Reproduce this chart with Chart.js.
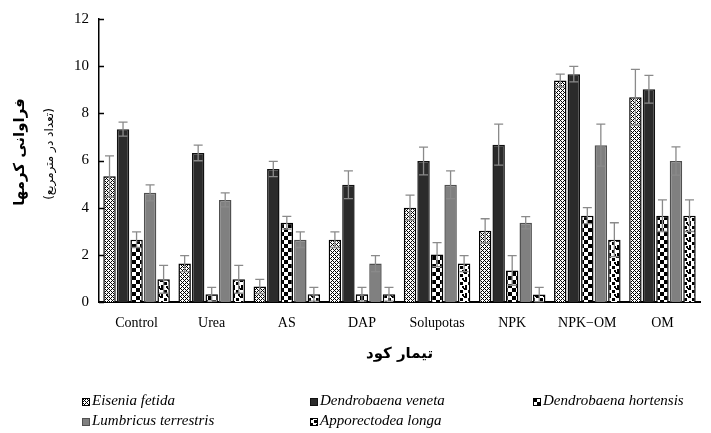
<!DOCTYPE html>
<html>
<head>
<meta charset="utf-8">
<script src="https://cdn.jsdelivr.net/npm/chart.js@4.4.0/dist/chart.umd.min.js"></script>
<style>
  body { margin: 0; background: #fff; }
  #wrap { position: relative; width: 711px; height: 433px; }
  .lg { position: absolute; font: italic 15px "Liberation Serif", serif; color: #000; white-space: nowrap; line-height: 16px; }
  .lg canvas { vertical-align: -1px; margin-right: 2px; }
</style>
</head>
<body>
<div id="wrap">
  <canvas id="chart" width="711" height="433"></canvas>
</div>
<script>
// DATA
var categories = ['Control', 'Urea', 'AS', 'DAP', 'Solupotas', 'NPK', 'NPK−OM', 'OM'];
var seriesNames = ['Eisenia fetida', 'Dendrobaena veneta', 'Dendrobaena hortensis', 'Lumbricus terrestris', 'Apporectodea longa'];

var eiseniaValues    = [5.33, 1.63, 0.66, 2.64, 4.00, 3.02, 9.39, 8.68];
var eiseniaErrors    = [0.87, 0.34, 0.30, 0.33, 0.53, 0.51, 0.27, 1.18];
var venetaValues     = [7.33, 6.32, 5.64, 4.97, 5.98, 6.67, 9.66, 9.02];
var venetaErrors     = [0.30, 0.33, 0.32, 0.59, 0.59, 0.87, 0.33, 0.59];
var hortensisValues  = [2.64, 0.33, 3.36, 0.33, 2.01, 1.34, 3.66, 3.66];
var hortensisErrors  = [0.33, 0.29, 0.27, 0.29, 0.51, 0.63, 0.34, 0.67];
var lumbricusValues  = [4.63, 4.33, 2.64, 1.63, 4.97, 3.36, 6.65, 5.98];
var lumbricusErrors  = [0.34, 0.30, 0.33, 0.34, 0.59, 0.26, 0.89, 0.60];
var longaValues      = [0.96, 0.96, 0.33, 0.33, 1.63, 0.32, 2.64, 3.66];
var longaErrors      = [0.59, 0.59, 0.29, 0.29, 0.34, 0.30, 0.72, 0.67];

var yTicks = [0, 2, 4, 6, 8, 10, 12];
var xTitle = 'تیمار کود';
var yTitle = 'فراوانی کرمها';
var ySubTitle = '(تعداد در مترمربع)';

// PATTERNS
function makePattern(w, h, draw) {
  var c = document.createElement('canvas');
  c.width = w; c.height = h;
  var g = c.getContext('2d');
  g.fillStyle = '#fff';
  g.fillRect(0, 0, w, h);
  g.fillStyle = '#000';
  draw(g);
  return g.createPattern(c, 'repeat');
}

var crossPattern = makePattern(4, 4, function(g) {
  [[0,0],[1,1],[2,2],[3,3],[1,3],[3,1]].forEach(function(p) { g.fillRect(p[0], p[1], 1, 1); });
});
var checkPattern = makePattern(8, 8, function(g) {
  g.fillRect(0, 0, 4, 4);
  g.fillRect(4, 4, 4, 4);
});
var spotPattern = makePattern(8, 8, function(g) {
  g.fillRect(0, 0, 3, 2);
  g.fillRect(4, 2, 3, 3);
  g.fillRect(1, 5, 2, 3);
  g.fillRect(6, 6, 2, 2);
  g.fillRect(7, 0, 1, 1);
});

var fills   = [crossPattern, '#2b2b2b', checkPattern, '#808080', spotPattern];
var borders = ['#000', '#111', '#000', '#505050', '#000'];
var valueSets = [eiseniaValues, venetaValues, hortensisValues, lumbricusValues, longaValues];
var errorSets = [eiseniaErrors, venetaErrors, hortensisErrors, lumbricusErrors, longaErrors];

// PLUGINS
var errorBars = {
  id: 'errorBars',
  afterDatasetsDraw: function(chart) {
    var ctx = chart.ctx, y = chart.scales.y;
    ctx.save();
    ctx.strokeStyle = '#8a8a8a';
    ctx.lineWidth = 1.3;
    chart.data.datasets.forEach(function(ds, i) {
      var meta = chart.getDatasetMeta(i);
      meta.data.forEach(function(bar, j) {
        var v = ds.data[j], e = ds.errors[j];
        var top = y.getPixelForValue(v + e), bot = y.getPixelForValue(v - e);
        ctx.beginPath();
        ctx.moveTo(bar.x, top); ctx.lineTo(bar.x, bot);
        ctx.moveTo(bar.x - 4.5, top); ctx.lineTo(bar.x + 4.5, top);
        ctx.moveTo(bar.x - 4.5, bot); ctx.lineTo(bar.x + 4.5, bot);
        ctx.stroke();
      });
    });
    ctx.restore();
  }
};

function rotatedText(ctx, text, font, x, y) {
  ctx.save();
  ctx.fillStyle = '#000';
  ctx.textAlign = 'center';
  ctx.textBaseline = 'middle';
  ctx.direction = 'rtl';
  ctx.font = font;
  ctx.translate(x, y);
  ctx.rotate(-Math.PI / 2);
  ctx.fillText(text, 0, 0);
  ctx.restore();
}

var axisDecor = {
  id: 'axisDecor',
  afterDraw: function(chart) {
    var ctx = chart.ctx, y = chart.scales.y, area = chart.chartArea;
    ctx.save();
    // inward tick marks
    ctx.strokeStyle = '#000';
    ctx.lineWidth = 1.5;
    yTicks.forEach(function(t) {
      var py = Math.round(y.getPixelForValue(t)) + 0.5;
      ctx.beginPath();
      ctx.moveTo(area.left, py); ctx.lineTo(area.left + 5, py);
      ctx.stroke();
    });
    // x title
    ctx.fillStyle = '#000';
    ctx.textAlign = 'center';
    ctx.textBaseline = 'middle';
    ctx.direction = 'rtl';
    ctx.font = 'bold 15px "DejaVu Sans"';
    ctx.fillText(xTitle, (area.left + area.right) / 2, 354);
    ctx.restore();
    // y titles
    rotatedText(ctx, yTitle, 'bold 15px "DejaVu Sans"', 20, 152);
    rotatedText(ctx, ySubTitle, '12px "DejaVu Sans"', 50, 154);
  }
};

// CHART
var datasets = seriesNames.map(function(name, i) {
  return {
    label: name,
    data: valueSets[i],
    errors: errorSets[i],
    backgroundColor: fills[i],
    borderColor: borders[i],
    borderWidth: 1.5,
    categoryPercentage: 0.9,
    barPercentage: 0.92
  };
});

var chart = new Chart(document.getElementById('chart'), {
  type: 'bar',
  data: { labels: categories, datasets: datasets },
  options: {
    responsive: false,
    animation: false,
    layout: { padding: { top: 17, right: 11, left: 0, bottom: 0 } },
    plugins: { legend: { display: false }, tooltip: { enabled: false } },
    scales: {
      x: {
        grid: { display: false, drawTicks: false },
        border: { display: true, color: '#000', width: 2 },
        ticks: { color: '#000', padding: 13, font: { family: 'Liberation Serif', size: 14 } },
        afterFit: function(s) { s.height = 131; }
      },
      y: {
        min: 0, max: 12,
        grid: { display: false, drawTicks: false },
        border: { display: true, color: '#000', width: 1.5 },
        ticks: { stepSize: 2, color: '#000', padding: 10, font: { family: 'Liberation Serif', size: 15 } },
        afterFit: function(s) { s.width = 99; }
      }
    }
  },
  plugins: [errorBars, axisDecor]
});

// LEGEND
var legendPos = [[82, 400], [310, 400], [533, 400], [82, 420], [310, 420]];
var wrap = document.getElementById('wrap');
seriesNames.forEach(function(name, i) {
  var item = document.createElement('div');
  item.className = 'lg';
  item.style.left = legendPos[i][0] + 'px';
  item.style.top = (legendPos[i][1] - 8) + 'px';
  var ic = document.createElement('canvas');
  ic.width = 8; ic.height = 8;
  var g = ic.getContext('2d');
  g.fillStyle = fills[i];
  g.fillRect(0, 0, 8, 8);
  g.strokeStyle = borders[i];
  g.lineWidth = 1;
  g.strokeRect(0.5, 0.5, 7, 7);
  item.appendChild(ic);
  item.appendChild(document.createTextNode(name));
  wrap.appendChild(item);
});
</script>
</body>
</html>
